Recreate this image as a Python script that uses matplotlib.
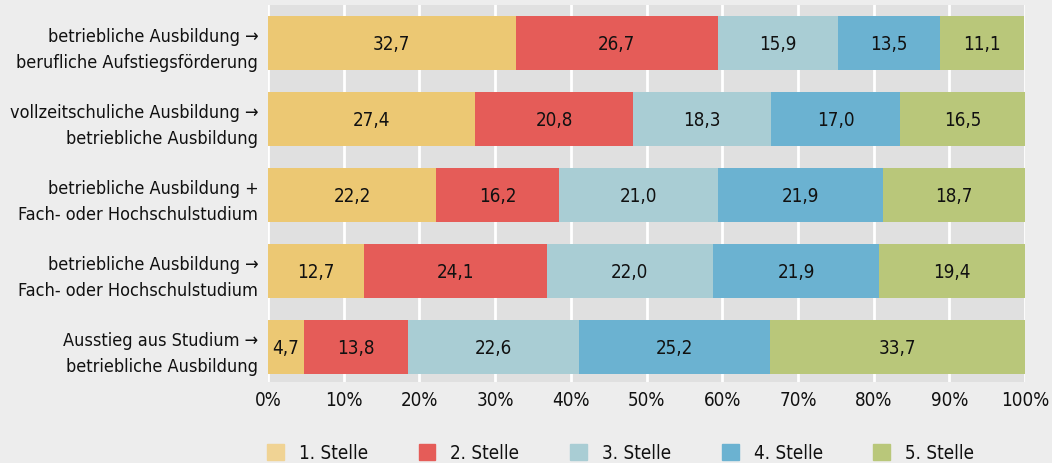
import matplotlib
matplotlib.use("Agg")
import matplotlib.pyplot as plt
import numpy as np
from matplotlib.patches import Patch

plt.rcParams['font.family'] = ['DejaVu Sans']
plt.rcParams['font.stretch'] = 'condensed'

# Data
categories = [
    "betriebliche Ausbildung \u2192\nberufliche Aufstiegsförderung",
    "vollzeitschuliche Ausbildung \u2192\nbetriebliche Ausbildung",
    "betriebliche Ausbildung +\nFach- oder Hochschulstudium",
    "betriebliche Ausbildung \u2192\nFach- oder Hochschulstudium",
    "Ausstieg aus Studium \u2192\nbetriebliche Ausbildung",
]
series_labels = ["1. Stelle", "2. Stelle", "3. Stelle", "4. Stelle", "5. Stelle"]
stelle_1 = [32.7, 27.4, 22.2, 12.7, 4.7]
stelle_2 = [26.7, 20.8, 16.2, 24.1, 13.8]
stelle_3 = [15.9, 18.3, 21.0, 22.0, 22.6]
stelle_4 = [13.5, 17.0, 21.9, 21.9, 25.2]
stelle_5 = [11.1, 16.5, 18.7, 19.4, 33.7]
x_ticks = [0, 10, 20, 30, 40, 50, 60, 70, 80, 90, 100]

colors = ['#ecc873', '#e55c58', '#a9cdd4', '#6bb2d1', '#b9c77a']
legend_colors = ['#f0d394', '#e55c58', '#a9cdd4', '#6bb2d1', '#b9c77a']

fig = plt.figure(figsize=(10.52, 4.64), dpi=100, facecolor='#ededed')
ax = fig.add_axes([268 / 1052, 1 - 383 / 464, (1025 - 268) / 1052, (383 - 6) / 464])
ax.set_facecolor('#e0e0e0')

y = np.arange(len(categories))
left = np.zeros(len(categories))
for vals, col in zip([stelle_1, stelle_2, stelle_3, stelle_4, stelle_5], colors):
    vals = np.array(vals)
    ax.barh(y, vals, left=left, height=0.71, color=col, zorder=3)
    for yi, v, l in zip(y, vals, left):
        ax.text(l + v / 2, yi, f"{v:.1f}".replace('.', ','), ha='center', va='center',
                fontsize=13.5, color='#111111', zorder=4)
    left += vals

ax.set_xlim(0, 100)
ax.set_ylim(4.46, -0.5)
ax.set_yticks(y)
ax.set_yticklabels(categories, fontsize=13, color='#111111', ha='right',
                   linespacing=1.6)
ax.set_xticks(x_ticks)
ax.set_xticklabels([f"{t}%" for t in x_ticks], fontsize=13.5, color='#111111')
ax.tick_params(axis='both', length=0)
ax.tick_params(axis='y', pad=7)
ax.tick_params(axis='x', pad=6)
ax.grid(axis='x', color='white', linewidth=2, zorder=1)
for s in ax.spines.values():
    s.set_visible(False)

handles = [Patch(color=c, label=l) for c, l in zip(legend_colors, series_labels)]
fig.legend(handles=handles, loc='lower left', bbox_to_anchor=(250 / 1052, -0.035), ncol=5,
           frameon=False, fontsize=13.5, handlelength=0.9, handleheight=0.9,
           columnspacing=2.7, handletextpad=0.8, labelcolor='#111111')

fig.savefig("out.png", dpi=100, facecolor=fig.get_facecolor())
